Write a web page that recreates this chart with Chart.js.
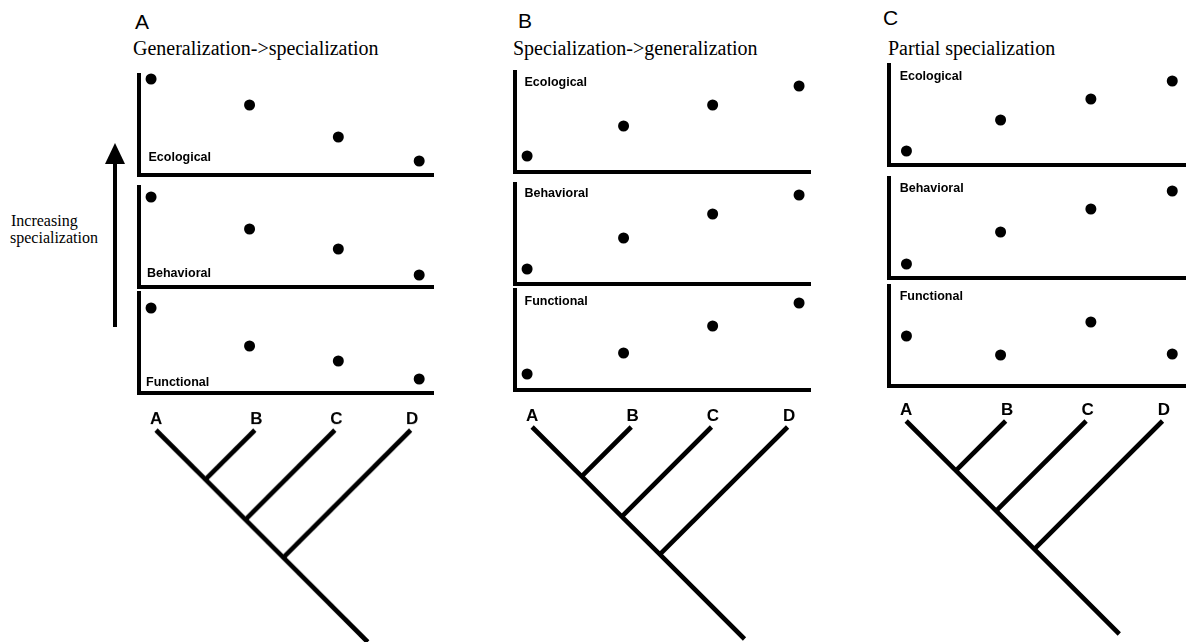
<!DOCTYPE html>
<html>
<head>
<meta charset="utf-8">
<script src="https://cdn.jsdelivr.net/npm/chart.js@4.4.1/dist/chart.umd.min.js"></script>
<style>
  body { margin: 0; background: #fff; }
  #figura { position: relative; width: 1188px; height: 642px; overflow: hidden; background: #fff; }
  .txt { position: absolute; white-space: nowrap; color: #000; }
  .painel { position: absolute; }
</style>
</head>
<body>
<div id="figura"></div>
<script>
// taxa e tracos
var taxa = ['A', 'B', 'C', 'D'];
var tracos = ['Ecological', 'Behavioral', 'Functional'];

// posicao dos taxa no eixo x de cada painel (0-100)
var xGenSpec = [4.1, 37.6, 67.8, 95.3];
var xSpecGen = [4.1, 36.8, 67.0, 96.3];
var xParcial = [5.9, 37.7, 68.2, 95.7];

// nivel de especializacao (0-10)
var genSpecEcological = [9.6, 7.0, 3.8, 1.4];
var genSpecBehavioral = [9.0, 5.8, 3.8, 1.2];
var genSpecFunctional = [8.5, 4.7, 3.2, 1.4];

var specGenEcological = [1.6, 4.6, 6.7, 8.6];
var specGenBehavioral = [1.5, 4.6, 7.0, 8.9];
var specGenFunctional = [1.6, 3.7, 6.4, 8.7];

var parcialEcological = [1.4, 4.5, 6.6, 8.4];
var parcialBehavioral = [1.4, 4.6, 6.9, 8.7];
var parcialFunctional = [5.0, 3.1, 6.4, 3.2];

// filogenia ((((A,B),C),D)) - pontas e nos (AB, ABC, ABCD, raiz)
var pontaX = [5.8, 39.4, 66.6, 92.4];
var noX = [22.6, 36.2, 49.1, 77.8];
var noProf = [16.8, 30.4, 43.3, 72];

var SANS = '"Liberation Sans", Arial, sans-serif';
var SERIF = '"Liberation Serif", "Times New Roman", serif';

var colunas = [
  {
    letra: 'A', letraX: 135, letraBase: 28.3,
    titulo: 'Generalization->specialization', tituloX: 133, tituloBase: 55,
    left: 139, right: 433, bottoms: [175, 287, 393], pontaY: 430,
    x: xGenSpec, series: [genSpecEcological, genSpecBehavioral, genSpecFunctional],
    rotuloEm: 'bottom', rotuloDx: [9.5, 8, 7], rotuloDy: [-17.5, -13.7, -10.5]
  },
  {
    letra: 'B', letraX: 518, letraBase: 27.3,
    titulo: 'Specialization->generalization', tituloX: 513, tituloBase: 55,
    left: 515, right: 810, bottoms: [172, 284, 390], pontaY: 427,
    x: xSpecGen, series: [specGenEcological, specGenBehavioral, specGenFunctional],
    rotuloEm: 'top', rotuloDx: [9.5, 9.5, 9.5], rotuloDy: [10.6, 9.6, 11.4]
  },
  {
    letra: 'C', letraX: 883, letraBase: 24.8,
    titulo: 'Partial specialization', tituloX: 888, tituloBase: 54.3,
    left: 889, right: 1185, bottoms: [165, 278, 386], pontaY: 421,
    x: xParcial, series: [parcialEcological, parcialBehavioral, parcialFunctional],
    rotuloEm: 'top', rotuloDx: [10.7, 10.7, 10.7], rotuloDy: [12, 10.3, 10.9]
  }
];

var figura = document.getElementById('figura');

function texto(str, x, base, tam, familia, peso) {
  var d = document.createElement('div');
  d.className = 'txt';
  var asc = familia === SERIF ? 0.891 : 0.905;
  var desc = familia === SERIF ? 0.216 : 0.212;
  var topo = base - ((tam - (asc + desc) * tam) / 2 + asc * tam);
  d.style.left = x + 'px';
  d.style.top = topo + 'px';
  d.style.fontFamily = familia;
  d.style.fontSize = tam + 'px';
  d.style.lineHeight = tam + 'px';
  d.style.fontWeight = peso || 'normal';
  d.textContent = str;
  figura.appendChild(d);
}

function novoCanvas(x, y, w, h) {
  var div = document.createElement('div');
  div.className = 'painel';
  div.style.left = x + 'px';
  div.style.top = y + 'px';
  var canvas = document.createElement('canvas');
  canvas.width = w;
  canvas.height = h;
  canvas.style.width = w + 'px';
  canvas.style.height = h + 'px';
  div.appendChild(canvas);
  figura.appendChild(div);
  return canvas;
}

var eixo = {
  type: 'linear',
  grid: { display: false, drawTicks: false },
  ticks: { display: false },
  border: { display: true, width: 4, color: '#000' }
};

function CriarPainel(col, i) {
  var pad = 8;
  var bottom = col.bottoms[i];
  var top = bottom - 100;
  var w = col.right - col.left;
  var canvas = novoCanvas(col.left - pad, top - pad, w + 2 * pad, 100 + 2 * pad);

  var pontos = [];
  for (var k = 0; k < taxa.length; k++) {
    pontos.push({ x: col.x[k], y: col.series[i][k] });
  }

  new Chart(canvas.getContext('2d'), {
    type: 'scatter',
    data: {
      datasets: [{
        label: tracos[i],
        data: pontos,
        backgroundColor: '#000',
        borderWidth: 0,
        pointRadius: 5.5,
        pointHoverRadius: 5.5,
        clip: false
      }]
    },
    options: {
      responsive: false,
      animation: false,
      events: [],
      layout: { padding: pad },
      plugins: { legend: { display: false }, tooltip: { enabled: false } },
      scales: {
        x: Object.assign({}, eixo, { min: 0, max: 100 }),
        y: Object.assign({}, eixo, { min: 0, max: 10 })
      }
    },
    plugins: [{
      id: 'rotuloTraco',
      afterDraw: function (chart) {
        var ca = chart.chartArea;
        var ctx = chart.ctx;
        ctx.save();
        ctx.font = 'bold 12.5px ' + SANS;
        ctx.fillStyle = '#000';
        ctx.textBaseline = 'middle';
        ctx.textAlign = 'left';
        var y = col.rotuloEm === 'bottom' ? ca.bottom + col.rotuloDy[i] : ca.top + col.rotuloDy[i];
        ctx.fillText(tracos[i], ca.left + col.rotuloDx[i], y);
        ctx.restore();
      }
    }]
  });
}

function CriarArvore(col) {
  var padL = 10, padR = 10, padT = 28, padB = 10;
  var w = col.right - col.left;
  var escala = w / 100;
  var profMax = noProf[noProf.length - 1];
  var h = profMax * escala;
  var canvas = novoCanvas(col.left - padL, col.pontaY - padT, w + padL + padR, h + padT + padB);

  // tronco: ponta A -> nos -> raiz
  var tronco = [{ x: pontaX[0], y: 0 }];
  for (var n = 0; n < noX.length; n++) {
    tronco.push({ x: noX[n], y: noProf[n] });
  }
  var conjuntos = [{ data: tronco }];
  for (var k = 1; k < pontaX.length; k++) {
    conjuntos.push({ data: [{ x: pontaX[k], y: 0 }, { x: noX[k - 1], y: noProf[k - 1] }] });
  }
  conjuntos.forEach(function (c) {
    c.showLine = true;
    c.borderColor = '#000';
    c.borderWidth = 4.6;
    c.pointRadius = 0;
    c.borderCapStyle = 'butt';
    c.clip = false;
  });

  new Chart(canvas.getContext('2d'), {
    type: 'scatter',
    data: { datasets: conjuntos },
    options: {
      responsive: false,
      animation: false,
      events: [],
      layout: { padding: { left: padL, right: padR, top: padT, bottom: padB } },
      plugins: { legend: { display: false }, tooltip: { enabled: false } },
      scales: {
        x: { type: 'linear', display: false, min: 0, max: 100 },
        y: { type: 'linear', display: false, min: 0, max: profMax, reverse: true }
      }
    },
    plugins: [{
      id: 'rotuloTaxa',
      afterDraw: function (chart) {
        var ctx = chart.ctx;
        var xs = chart.scales.x;
        ctx.save();
        ctx.font = 'bold 17px ' + SANS;
        ctx.fillStyle = '#000';
        ctx.textAlign = 'center';
        ctx.textBaseline = 'middle';
        for (var k = 0; k < taxa.length; k++) {
          ctx.fillText(taxa[k], xs.getPixelForValue(pontaX[k]) + (k > 0 ? 1.5 : 0), chart.chartArea.top - 11);
        }
        ctx.restore();
      }
    }]
  });
}

colunas.forEach(function (col) {
  texto(col.letra, col.letraX, col.letraBase, 21, SANS);
  texto(col.titulo, col.tituloX, col.tituloBase, 20, SERIF);
  for (var i = 0; i < tracos.length; i++) {
    CriarPainel(col, i);
  }
  CriarArvore(col);
});

// seta "Increasing specialization"
texto('Increasing', 11, 226, 16, SERIF);
texto('specialization', 10, 243, 16, SERIF);

var haste = document.createElement('div');
haste.style.cssText = 'position:absolute;left:113px;top:160px;width:4px;height:167px;background:#000;';
figura.appendChild(haste);
var ponta = document.createElement('div');
ponta.style.cssText = 'position:absolute;left:105px;top:143px;width:0;height:0;' +
  'border-left:10.5px solid transparent;border-right:10.5px solid transparent;border-bottom:21px solid #000;';
figura.appendChild(ponta);
</script>
</body>
</html>
